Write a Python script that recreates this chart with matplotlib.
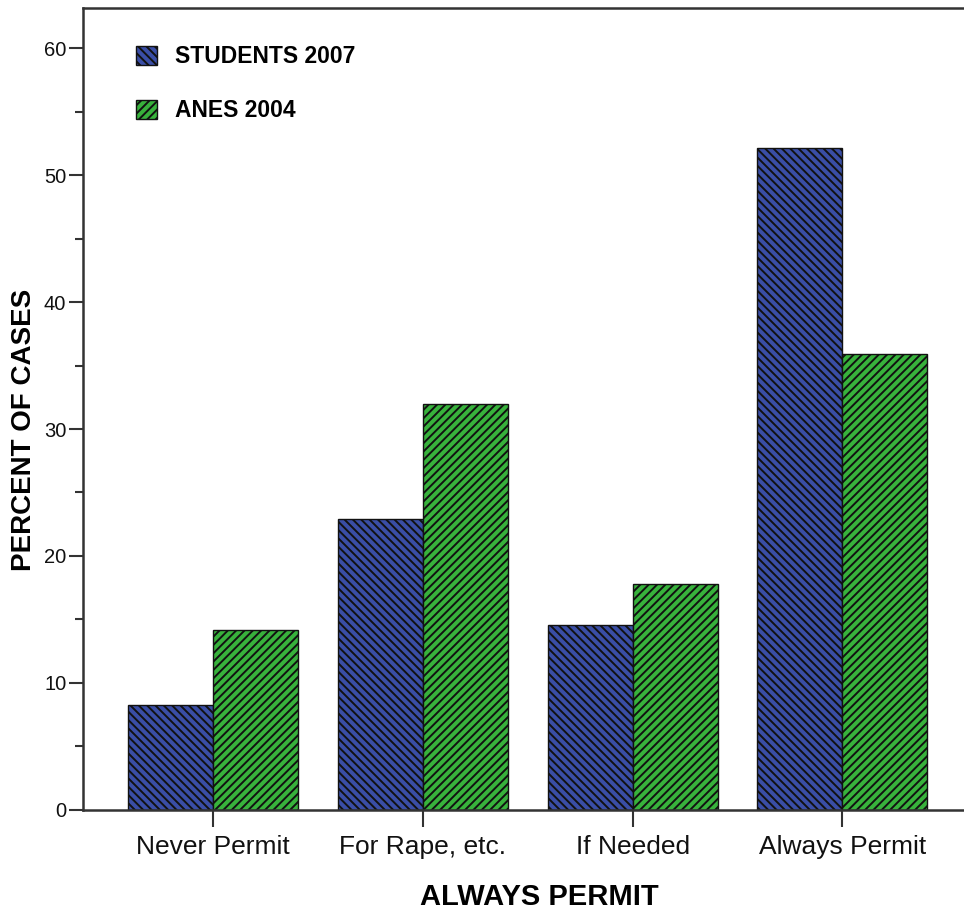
import numpy as np
import matplotlib
matplotlib.use("Agg")
from matplotlib import pyplot as plt
from matplotlib.ticker import MultipleLocator

# данные
categories = ["Never Permit", "For Rape, etc.", "If Needed", "Always Permit"]
students_2007 = [8.3, 22.9, 14.6, 52.1]
anes_2004 = [14.2, 32.0, 17.8, 35.9]

plt.rcParams['font.family'] = ['Liberation Sans', 'DejaVu Sans']
plt.rcParams['hatch.linewidth'] = 1.4

fig = plt.figure(figsize=(9.64, 9.10), dpi=100)
ax = fig.add_axes([0.0861, 0.1099, 0.9139, 0.8813])

x = np.arange(len(categories))
w = 0.405
ax.bar(x - w / 2, students_2007, w, color='#3a4ea6', edgecolor='#111111',
       hatch='\\\\\\\\', linewidth=1.0, label='STUDENTS 2007')
ax.bar(x + w / 2, anes_2004, w, color='#38b23c', edgecolor='#111111',
       hatch='////', linewidth=1.0, label='ANES 2004')

ax.set_xlim(-0.62, 3.58)
ax.set_ylim(0, 63.15)

ax.yaxis.set_major_locator(MultipleLocator(10))
ax.yaxis.set_minor_locator(MultipleLocator(5))
ax.set_xticks(x)
ax.set_xticklabels(categories, fontsize=19, color='#111111')
ax.tick_params(axis='x', length=12, width=1.5, color='#333333', pad=6)
ax.tick_params(axis='y', which='major', length=10, width=1.5, color='#333333',
               labelsize=14.5, labelcolor='#111111', pad=2)
ax.tick_params(axis='y', which='minor', length=6, width=1.5, color='#333333')

for s in ['left', 'top', 'bottom']:
    ax.spines[s].set_linewidth(1.8)
    ax.spines[s].set_color('#333333')
ax.spines['right'].set_visible(False)

ax.set_xlabel("ALWAYS PERMIT", fontsize=21, fontweight='bold')
ax.set_ylabel("PERCENT OF CASES", fontsize=20, fontweight='bold')
ax.xaxis.set_label_coords(0.5176, -0.091)
ax.yaxis.set_label_coords(-0.052, 0.474)

leg = ax.legend(loc='upper left', bbox_to_anchor=(0.037, 0.979), frameon=False,
                handlelength=0.9, handleheight=0.9, labelspacing=1.35,
                handletextpad=0.8, prop={'size': 16.5, 'weight': 'bold'})

plt.savefig("out.png", dpi=100)
